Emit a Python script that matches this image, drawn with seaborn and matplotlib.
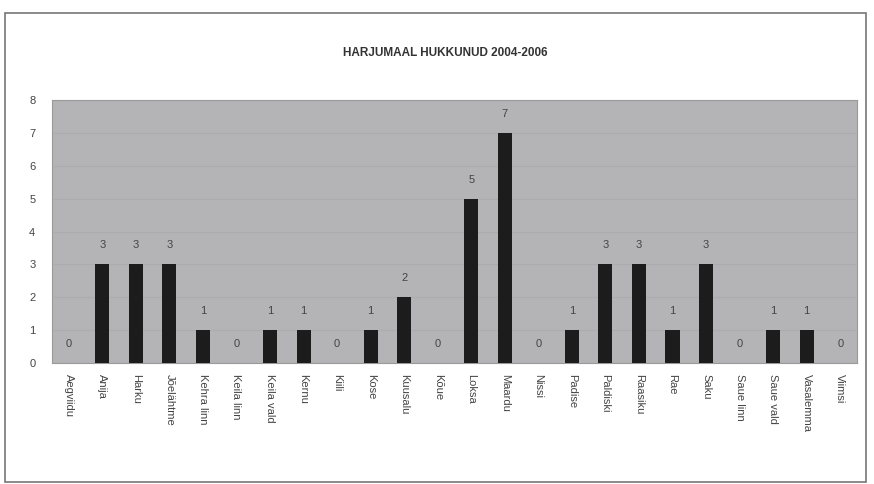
import pandas as pd
import matplotlib.pyplot as plt
import seaborn as sns
from matplotlib.patches import Rectangle

# data
vallad = ["Aegviidu", "Anija", "Harku", "Jõelähtme", "Kehra linn", "Keila linn",
          "Keila vald", "Kernu", "Kiili", "Kose", "Kuusalu", "Kõue", "Loksa",
          "Maardu", "Nissi", "Padise", "Paldiski", "Raasiku", "Rae", "Saku",
          "Saue linn", "Saue vald", "Vasalemma", "Viimsi"]
hukkunud = [0, 3, 3, 3, 1, 0, 1, 1, 0, 1, 2, 0, 5, 7, 0, 1, 3, 3, 1, 3, 0, 1, 1, 0]
y_ticks = list(range(0, 9))

df = pd.DataFrame({"vald": vallad, "hukkunud": hukkunud})

sns.set_style("white")
plt.rcParams["font.family"] = ["Liberation Sans", "DejaVu Sans"]

fig = plt.figure(figsize=(8.74, 4.84), dpi=100)
ax = fig.add_axes([52 / 874, 1 - 363 / 484, (857 - 52) / 874, (363 - 100) / 484])

sns.barplot(data=df, x="vald", y="hukkunud", color="#1c1c1c", width=0.42,
            saturation=1, linewidth=0, edgecolor="none", ax=ax, zorder=3)

ax.set_facecolor("#b4b4b6")
ax.set_ylim(0, 8)
ax.set_yticks(y_ticks)
ax.set_xlim(-0.5, len(vallad) - 0.5)
ax.yaxis.grid(True, color="#acacae", linewidth=0.8, zorder=0)
ax.set_axisbelow(True)
for s in ax.spines.values():
    s.set_color("#9a9a9a")
    s.set_linewidth(0.8)

ax.bar_label(ax.containers[0], padding=10, fontsize=8, color="#444444")

ax.tick_params(axis="both", length=0, labelsize=8, colors="#444444")
ax.tick_params(axis="y", pad=12)
ax.tick_params(axis="x", pad=8)
plt.setp(ax.get_xticklabels(), rotation=270, va="top", ha="center")
ax.set_xlabel("")
ax.set_ylabel("")

fig.text(445 / 874, 1 - 53 / 484, "HARJUMAAL HUKKUNUD 2004-2006", ha="center",
         va="center", fontsize=8.5, fontweight="bold", color="#333333")

# outer chart frame
fig.patches.append(Rectangle((5 / 874, 1 - 482 / 484), 861 / 874, 469 / 484,
                             transform=fig.transFigure, fill=False,
                             edgecolor="#777777", linewidth=1.2))

fig.savefig("out.png", dpi=100)
plt.close()
